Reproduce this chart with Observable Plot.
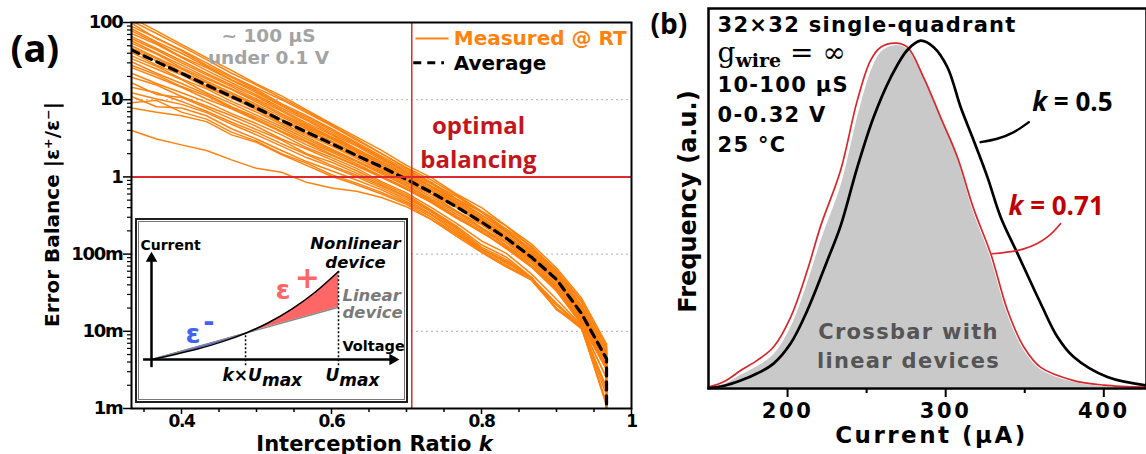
<!DOCTYPE html>
<html><head><meta charset="utf-8">
<script src="https://cdn.jsdelivr.net/npm/d3@7"></script>
<script src="https://cdn.jsdelivr.net/npm/@observablehq/plot@0.6"></script>
<style>
html,body{margin:0;padding:0;background:#fff;}
#root{position:relative;width:1146px;height:454px;overflow:hidden;}
#panelA{position:absolute;left:0;top:0;}
#panelB{position:absolute;left:640px;top:0;}
#inset{position:absolute;left:135px;top:218px;width:269px;height:181px;border:2px solid #1e1e1e;background:#fff;outline:1px solid #777;outline-offset:-4px;}
</style></head>
<body><div id="root"><div id="panelA"></div><div id="inset"></div><div id="panelB"></div></div>
<script>
// ---------- Panel (a) data ----------
const kRatio = [0.3333, 0.3667, 0.4, 0.4333, 0.4667, 0.5, 0.5333, 0.5667, 0.6, 0.6333, 0.6667, 0.7, 0.7333, 0.7667, 0.8, 0.8333, 0.8667, 0.9, 0.9333, 0.9667, 0.9667];
const average = [44, 31, 22, 15.5, 11, 7.8, 5.4, 3.8, 2.7, 1.9, 1.35, 0.93, 0.63, 0.41, 0.26, 0.16, 0.091, 0.047, 0.017, 0.0044, 0.001];
const curve01 = [115, 78, 52, 35, 24, 16, 11.2, 7.4, 4.9, 3.3, 2.2, 1.41, 0.98, 0.60, 0.40, 0.23, 0.135, 0.066, 0.027, 0.0068, 0.001];
const curve02 = [105, 72, 49, 33, 22, 15.5, 10.5, 7.1, 4.7, 3.1, 2.0, 1.32, 0.91, 0.58, 0.36, 0.23, 0.123, 0.062, 0.025, 0.0063, 0.001];
const curve03 = [98, 62, 44, 30, 20, 14.1, 10, 6.8, 4.6, 3.0, 2.0, 1.29, 0.83, 0.56, 0.35, 0.21, 0.126, 0.059, 0.024, 0.006, 0.001];
const curve04 = [89, 63, 43, 28, 19.5, 13.5, 8.9, 6.2, 4.2, 2.8, 1.86, 1.23, 0.85, 0.52, 0.35, 0.20, 0.117, 0.058, 0.022, 0.0055, 0.001];
const curve05 = [83, 56, 40, 27, 18.2, 12.9, 8.5, 5.9, 4.0, 2.7, 1.78, 1.17, 0.81, 0.51, 0.32, 0.20, 0.11, 0.055, 0.021, 0.0052, 0.001];
const curve06 = [78, 54, 36, 26, 17.8, 12.3, 8.3, 5.6, 3.8, 2.6, 1.74, 1.15, 0.76, 0.51, 0.32, 0.20, 0.107, 0.054, 0.020, 0.0051, 0.001];
const curve07 = [72, 52, 35, 24, 16.6, 11.5, 7.8, 5.4, 3.6, 2.5, 1.66, 1.12, 0.74, 0.48, 0.32, 0.19, 0.107, 0.052, 0.020, 0.0050, 0.001];
const curve08 = [66, 46, 32, 22, 15.5, 11, 7.4, 5.0, 3.5, 2.3, 1.58, 1.07, 0.74, 0.46, 0.30, 0.18, 0.10, 0.052, 0.019, 0.0048, 0.001];
const curve09 = [62, 44, 30, 21, 14.8, 10.2, 7.1, 4.8, 3.3, 2.3, 1.55, 1.05, 0.69, 0.46, 0.29, 0.17, 0.102, 0.050, 0.019, 0.0047, 0.001];
const curve10 = [58, 40, 28, 19.5, 13.8, 9.8, 6.6, 4.6, 3.2, 2.2, 1.48, 1.0, 0.69, 0.43, 0.28, 0.17, 0.095, 0.049, 0.018, 0.0045, 0.001];
const curve11 = [54, 39, 26, 18.6, 13.5, 9.3, 6.3, 4.4, 3.1, 2.1, 1.45, 0.98, 0.65, 0.44, 0.27, 0.17, 0.091, 0.048, 0.017, 0.0044, 0.001];
const curve12 = [50, 35, 25, 17.4, 12.3, 8.7, 6.0, 4.2, 2.9, 2.0, 1.38, 0.93, 0.65, 0.41, 0.26, 0.16, 0.089, 0.045, 0.017, 0.0042, 0.001];
const curve13 = [47, 34, 23, 16.6, 11.7, 8.3, 5.6, 4.0, 2.8, 1.9, 1.32, 0.89, 0.60, 0.40, 0.25, 0.155, 0.085, 0.044, 0.0155, 0.004, 0.001];
const curve14 = [44, 32, 22, 15.1, 11, 7.8, 5.5, 3.7, 2.6, 1.82, 1.26, 0.85, 0.59, 0.36, 0.24, 0.145, 0.083, 0.041, 0.015, 0.0038, 0.001];
const curve15 = [41, 28, 21, 14.5, 10.5, 7.4, 5.0, 3.5, 2.5, 1.74, 1.2, 0.83, 0.55, 0.36, 0.22, 0.14, 0.078, 0.039, 0.0145, 0.0036, 0.001];
const curve16 = [37, 27, 18.6, 13.8, 9.5, 6.9, 4.8, 3.3, 2.3, 1.62, 1.15, 0.79, 0.52, 0.35, 0.22, 0.13, 0.076, 0.037, 0.0138, 0.0035, 0.001];
const curve17 = [34, 25, 18.2, 12.3, 8.9, 6.3, 4.5, 3.1, 2.2, 1.58, 1.1, 0.76, 0.50, 0.33, 0.21, 0.129, 0.071, 0.036, 0.0135, 0.0034, 0.001];
const curve18 = [31, 22, 16.2, 11.7, 8.1, 5.9, 4.2, 2.9, 2.1, 1.48, 1.02, 0.72, 0.48, 0.31, 0.20, 0.12, 0.069, 0.035, 0.0129, 0.0032, 0.001];
const curve19 = [28, 21, 14.8, 11.2, 7.8, 5.6, 3.9, 2.8, 1.95, 1.41, 1.02, 0.69, 0.48, 0.30, 0.19, 0.123, 0.068, 0.034, 0.0126, 0.0033, 0.001];
const curve20 = [26, 19.5, 14.5, 10.2, 7.6, 5.4, 3.8, 2.6, 1.9, 1.38, 0.98, 0.69, 0.46, 0.29, 0.195, 0.117, 0.068, 0.033, 0.0123, 0.0032, 0.001];
const curve21 = [22, 16.2, 12.3, 9.3, 6.6, 4.9, 3.5, 2.4, 1.78, 1.29, 0.87, 0.62, 0.40, 0.25, 0.148, 0.102, 0.055, 0.026, 0.012, 0.0033, 0.001];
const curve22 = [19.5, 15.5, 11, 8.3, 6.2, 4.5, 3.1, 2.3, 1.66, 1.2, 0.83, 0.59, 0.37, 0.23, 0.132, 0.091, 0.050, 0.0195, 0.0117, 0.0025, 0.001];
const curve23 = [16.6, 11.7, 10.7, 7.8, 5.6, 4.1, 3.0, 2.0, 1.55, 1.12, 0.79, 0.56, 0.36, 0.22, 0.123, 0.085, 0.049, 0.023, 0.0115, 0.0017, 0.001];
const curve24 = [14.5, 12.3, 9.5, 7.1, 5.1, 3.8, 2.7, 1.95, 1.41, 1.05, 0.76, 0.54, 0.35, 0.21, 0.117, 0.081, 0.048, 0.022, 0.0112, 0.0012, 0.001];
const curve25 = [12.3, 10.2, 8.7, 6.8, 4.8, 3.5, 2.5, 1.78, 1.35, 1.0, 0.72, 0.51, 0.33, 0.20, 0.115, 0.078, 0.048, 0.020, 0.0112, 0.0011, 0.001];
const curve26 = [11, 8.1, 7.8, 6.2, 4.2, 3.1, 2.2, 1.58, 1.2, 0.91, 0.68, 0.48, 0.32, 0.19, 0.11, 0.072, 0.046, 0.0195, 0.0107, 0.0015, 0.001];
const curve27 = [9.1, 9.8, 6.9, 5.6, 3.8, 2.9, 2.0, 1.51, 1.07, 0.83, 0.63, 0.46, 0.30, 0.18, 0.107, 0.069, 0.050, 0.019, 0.0117, 0.0011, 0.001];
const curve28 = [7.8, 6.9, 6.2, 5.2, 3.5, 2.8, 1.95, 1.41, 1.02, 0.79, 0.60, 0.44, 0.28, 0.17, 0.105, 0.068, 0.046, 0.0195, 0.0115, 0.0019, 0.001];
const curve29 = [4.0, 3.1, 2.6, 2.2, 1.66, 1.29, 1.15, 0.85, 0.72, 0.65, 0.54, 0.41, 0.28, 0.18, 0.117, 0.076, 0.050, 0.0195, 0.0117, 0.0025, 0.001];
const optimalK = [0.707];
const balanceLine = [1];
const gridY = [10, 0.1, 0.01];
const yMajor = [0.001, 0.01, 0.1, 1, 10, 100];
const yMajorLabels = ["1m", "10m", "100m", "1", "10", "100"];
const yMinor = [0.002,0.003,0.004,0.005,0.006,0.007,0.008,0.009,0.02,0.03,0.04,0.05,0.06,0.07,0.08,0.09,0.2,0.3,0.4,0.5,0.6,0.7,0.8,0.9,2,3,4,5,6,7,8,9,20,30,40,50,60,70,80,90];
const xMajor = [0.4, 0.6, 0.8, 1.0];
const xMajorLabels = ["0.4", "0.6", "0.8", "1"];
const xMinor = [0.35, 0.45, 0.5, 0.55, 0.65, 0.7, 0.75, 0.85, 0.9, 0.95];

// ---------- Inset data ----------
const insetV = [0, 0.125, 0.25, 0.375, 0.503, 0.625, 0.75, 0.875, 1];
const insetLinear = [0, 0.074, 0.149, 0.223, 0.299, 0.371, 0.446, 0.52, 0.594];
const insetNonlinear = [0, 0.058, 0.123, 0.2, 0.299, 0.418, 0.572, 0.764, 1];

// ---------- Panel (b) data ----------
const currentK071 = [150, 160, 170.3, 181, 191.1, 201.9, 212.5, 220.9, 233.5, 244.1, 252.5, 258.9, 268.4, 275.8, 286.1, 296.8, 307.4, 317.7, 328.5, 339.2, 349.4, 360.1, 381, 400, 427];
const freqK071 = [0.004, 0.02, 0.052, 0.082, 0.12, 0.206, 0.342, 0.47, 0.631, 0.834, 0.95, 0.988, 1.0, 0.988, 0.90, 0.785, 0.67, 0.52, 0.39, 0.225, 0.12, 0.061, 0.023, 0.01, 0.004];
const freqLinear = [0.002, 0.014, 0.04, 0.066, 0.10, 0.18, 0.31, 0.43, 0.59, 0.79, 0.92, 0.975, 0.995, 0.985, 0.905, 0.79, 0.675, 0.515, 0.385, 0.22, 0.115, 0.057, 0.02, 0.008, 0.003];
const currentK05 = [150, 160, 170.3, 181, 191.1, 201.9, 212.5, 225.1, 233.5, 244.1, 254.4, 265.2, 275.8, 284.2, 292.4, 301.1, 309.5, 317.7, 326.4, 334.8, 345.4, 360.1, 370.7, 381, 402.3, 427];
const freqK05 = [0.001, 0.008, 0.023, 0.044, 0.072, 0.13, 0.226, 0.37, 0.47, 0.64, 0.785, 0.90, 0.98, 1.007, 0.988, 0.93, 0.814, 0.718, 0.612, 0.496, 0.391, 0.246, 0.149, 0.091, 0.033, 0.009];
const xTicksB = [200, 300, 400];
const xMinorB = [250, 350];

// ---------- styles ----------
const ORANGE = "#ff820f";
const RED = "#dc2a30";
const DARKRED = "#c3161c";
const BLUE = "#4162f2";
const PINK = "#ff6767";
const SANS = "'DejaVu Sans', sans-serif";

function richText(svg, content, parts) {
  d3.select(svg).selectAll("text").filter(function () { return this.textContent === content; }).each(function () {
    const t = d3.select(this); t.text(null);
    for (const [s, attrs] of parts) {
      const sp = t.append("tspan").text(s);
      for (const a in attrs) sp.attr(a, attrs[a]);
    }
  });
}
function spacing(svg, contents, px) {
  d3.select(svg).selectAll("text").filter(function () { return contents.includes(this.textContent); }).attr("letter-spacing", px + "px");
}

// ---------- Panel (a) ----------
const measured = [curve01, curve02, curve03, curve04, curve05, curve06, curve07, curve08, curve09, curve10,
  curve11, curve12, curve13, curve14, curve15, curve16, curve17, curve18, curve19, curve20,
  curve21, curve22, curve23, curve24, curve25, curve26, curve27, curve28, curve29];
const measuredRows = measured.flatMap((c, id) => c.map((e, j) => ({k: kRatio[j], e, id})));
const averageRows = average.map((e, j) => ({k: kRatio[j], e}));

const plotA = Plot.plot({
  width: 640, height: 454,
  marginLeft: 131, marginRight: 9, marginTop: 22, marginBottom: 46,
  x: {type: "linear", domain: [1 / 3, 1]},
  y: {type: "log", domain: [0.001, 100]},
  style: {fontFamily: SANS, background: "transparent", overflow: "visible"},
  marks: [
    Plot.ruleY(gridY, {stroke: "#b0b0b0", strokeDasharray: "2,3", strokeWidth: 1}),
    Plot.line(measuredRows, {x: "k", y: "e", z: "id", stroke: ORANGE, strokeWidth: 1.5, clip: true}),
    Plot.line(averageRows, {x: "k", y: "e", stroke: "black", strokeWidth: 3.2, strokeDasharray: "8,6", clip: true}),
    Plot.ruleY(balanceLine, {stroke: RED, strokeWidth: 2}),
    Plot.ruleX(optimalK, {stroke: RED, strokeWidth: 1.5}),
    Plot.frame({stroke: "black", strokeWidth: 2}),
    Plot.axisX({ticks: xMajor, tickFormat: d => xMajorLabels[xMajor.indexOf(d)], tickSize: 6, tickPadding: 0, fontSize: 17, fontWeight: "bold", label: null, strokeWidth: 1.5}),
    Plot.axisX({ticks: xMinor, tickFormat: () => "", tickSize: 4, label: null, strokeWidth: 1.5}),
    Plot.axisY({ticks: yMajor, tickFormat: d => yMajorLabels[yMajor.indexOf(d)], tickSize: 8, tickPadding: 1, fontSize: 18, fontWeight: "bold", label: null, strokeWidth: 1.5}),
    Plot.axisY({ticks: yMinor, tickFormat: () => "", tickSize: 4, label: null, strokeWidth: 1.2}),
    // legend
    Plot.link([0], {x1: 0.712, x2: 0.756, y1: 62, y2: 62, stroke: ORANGE, strokeWidth: 2}),
    Plot.text(["Measured @ RT"], {x: 0.763, y: 51, textAnchor: "start", lineAnchor: "bottom", fill: ORANGE, fontSize: 20, fontWeight: "bold"}),
    Plot.link([0], {x1: 0.709, x2: 0.750, y1: 30, y2: 30, stroke: "black", strokeWidth: 3, strokeDasharray: "8,6"}),
    Plot.text(["Average"], {x: 0.763, y: 24.5, textAnchor: "start", lineAnchor: "bottom", fill: "black", fontSize: 20, fontWeight: "bold"}),
    // annotations
    Plot.text(["~ 100 µS"], {x: 0.516, y: 56.5, lineAnchor: "bottom", fill: "#a3a3a3", fontSize: 18.5, fontWeight: "bold"}),
    Plot.text(["under 0.1 V"], {x: 0.516, y: 29.3, lineAnchor: "bottom", fill: "#a3a3a3", fontSize: 18.5, fontWeight: "bold"}),
    Plot.text(["optimal"], {x: 0.796, y: 3.6, lineAnchor: "bottom", fill: DARKRED, fontSize: 24, fontWeight: 700, fontFamily: "'Open Sans'"}),
    Plot.text(["balancing"], {x: 0.796, y: 1.31, lineAnchor: "bottom", fill: DARKRED, fontSize: 24, fontWeight: 700, fontFamily: "'Open Sans'"}),
    // labels
    Plot.text(["(a)"], {frameAnchor: "top-left", dx: -121, dy: 39, textAnchor: "start", lineAnchor: "bottom", fontSize: 38, fontWeight: 700, fontFamily: "'Open Sans'"}),
    Plot.text(["Error Balance |ε⁺/ε⁻|"], {frameAnchor: "left", dx: -79, dy: -1, rotate: -90, textAnchor: "middle", lineAnchor: "middle", fontSize: 20, fontWeight: "bold"}),
    Plot.text(["Interception Ratio k"], {frameAnchor: "bottom", dx: -7, dy: 42, lineAnchor: "bottom", textAnchor: "middle", fontSize: 21, fontWeight: "bold"})
  ]
});
richText(plotA, "Interception Ratio k", [["Interception Ratio ", {}], ["k", {"font-style": "italic"}]]);
d3.select(plotA).selectAll('g[aria-label="x-axis tick label"] text, g[aria-label="y-axis tick label"] text').attr("letter-spacing", "-1.3px");
document.getElementById("panelA").append(plotA);

// ---------- Inset ----------
const insetRows = insetV.map((v, i) => ({v, lin: insetLinear[i], nl: insetNonlinear[i]}));
const kIdx = 4;
const plotInset = Plot.plot({
  width: 269, height: 181,
  marginLeft: 14, marginRight: 68, marginTop: 51, marginBottom: 42,
  x: {domain: [0, 1], axis: null},
  y: {domain: [0, 1], axis: null},
  style: {fontFamily: SANS, background: "transparent", overflow: "visible"},
  marks: [
    Plot.areaY(insetRows.slice(0, kIdx + 1), {x: "v", y1: "nl", y2: "lin", fill: BLUE, curve: "monotone-x"}),
    Plot.areaY(insetRows.slice(kIdx), {x: "v", y1: "lin", y2: "nl", fill: PINK, curve: "monotone-x"}),
    Plot.line(insetRows, {x: "v", y: "lin", stroke: "#8a8a8a", strokeWidth: 1.5}),
    Plot.line(insetRows, {x: "v", y: "nl", stroke: "black", strokeWidth: 1.5, curve: "monotone-x"}),
    Plot.ruleX([insetV[kIdx]], {y1: -0.07, y2: insetNonlinear[kIdx], stroke: "black", strokeDasharray: "2,2", strokeWidth: 1.5}),
    Plot.ruleX([insetV[insetV.length - 1]], {y1: -0.07, y2: insetNonlinear[insetNonlinear.length - 1], stroke: "black", strokeDasharray: "2,2", strokeWidth: 1.5}),
    Plot.link([0], {x1: 0, x2: 0, y1: -0.087, y2: 1.15, stroke: "black", strokeWidth: 2.5}),
    Plot.link([0], {x1: -0.045, x2: 1.29, y1: 0, y2: 0, stroke: "black", strokeWidth: 2.5}),
    Plot.dot([0], {x: 0, y: 1.15, symbol: "triangle2", r: 5.5, fill: "black", stroke: null}),
    Plot.dot([0], {x: 1.29, y: 0, symbol: "triangle2", r: 5.5, fill: "black", stroke: null, rotate: 90}),
    Plot.text(["Current"], {x: -0.059, y: 1.25, textAnchor: "start", lineAnchor: "bottom", fontSize: 14, fontWeight: "bold"}),
    Plot.text(["Voltage"], {x: 1.021, y: 0.091, textAnchor: "start", lineAnchor: "bottom", fontSize: 14.5, fontWeight: "bold"}),
    Plot.text(["Nonlinear"], {x: 1.091, y: 1.26, textAnchor: "middle", lineAnchor: "bottom", fontSize: 16.5, fontWeight: "bold", fontStyle: "italic"}),
    Plot.text(["device"], {x: 1.091, y: 1.045, textAnchor: "middle", lineAnchor: "bottom", fontSize: 16.5, fontWeight: "bold", fontStyle: "italic"}),
    Plot.text(["Linear"], {x: 1.021, y: 0.67, textAnchor: "start", lineAnchor: "bottom", fontSize: 16.5, fontWeight: "bold", fontStyle: "italic", fill: "#7a7a7a"}),
    Plot.text(["device"], {x: 1.021, y: 0.466, textAnchor: "start", lineAnchor: "bottom", fontSize: 16.5, fontWeight: "bold", fontStyle: "italic", fill: "#7a7a7a"}),
    Plot.text(["ε"], {x: 0.182, y: 0.182, textAnchor: "start", lineAnchor: "bottom", fontSize: 27, fontWeight: "bold", fill: BLUE}),
    Plot.text(["-"], {x: 0.307, y: 0.424, textAnchor: "middle", lineAnchor: "middle", fontSize: 27, fontWeight: "bold", fill: BLUE}),
    Plot.text(["ε"], {x: 0.663, y: 0.693, textAnchor: "start", lineAnchor: "bottom", fontSize: 27, fontWeight: "bold", fill: PINK}),
    Plot.text(["+"], {x: 0.833, y: 0.917, textAnchor: "middle", lineAnchor: "middle", fontSize: 30, fontWeight: "bold", fill: PINK}),
    Plot.text(["k×Umax"], {x: 0.38, y: -0.239, textAnchor: "start", lineAnchor: "bottom", fontSize: 17, fontWeight: "bold", fontStyle: "italic"}),
    Plot.text(["Umax"], {x: 0.93, y: -0.239, textAnchor: "start", lineAnchor: "bottom", fontSize: 17, fontWeight: "bold", fontStyle: "italic"})
  ]
});
richText(plotInset, "k×Umax", [["k×U", {}], ["max", {dy: 5}]]);
richText(plotInset, "Umax", [["U", {}], ["max", {dy: 5}]]);
document.getElementById("inset").append(plotInset);

// ---------- Panel (b) ----------
const rowsK071 = currentK071.map((c, i) => ({c, f: freqK071[i]}));
const rowsLinear = currentK071.map((c, i) => ({c, f: freqLinear[i]}));
const rowsK05 = currentK05.map((c, i) => ({c, f: freqK05[i]}));

const plotB = Plot.plot({
  width: 506, height: 454,
  marginLeft: 68, marginRight: 0, marginTop: 8, marginBottom: 66,
  x: {domain: [150, 427]},
  y: {domain: [0, 1.1], axis: null},
  style: {fontFamily: SANS, background: "transparent", overflow: "visible"},
  marks: [
    Plot.areaY(rowsLinear, {x: "c", y: "f", fill: "#c9c9c9", stroke: "white", strokeWidth: 1.5, curve: "catmull-rom"}),
    Plot.line(rowsK071, {x: "c", y: "f", stroke: "#d9262c", strokeWidth: 1.7, curve: "catmull-rom"}),
    Plot.line(rowsK05, {x: "c", y: "f", stroke: "black", strokeWidth: 2.7, curve: "catmull-rom"}),
    Plot.line([[352.6, 0.771], [343.1, 0.742], [332.6, 0.723], [322.1, 0.713]], {stroke: "black", strokeWidth: 2.4, curve: "natural"}),
    Plot.line([[372.6, 0.477], [364.2, 0.438], [349.4, 0.404], [329.4, 0.390]], {stroke: "#d9262c", strokeWidth: 1.7, curve: "natural"}),
    Plot.frame({stroke: "black", strokeWidth: 2.5}),
    Plot.axisX({ticks: xTicksB, tickSize: 9, tickPadding: 6, fontSize: 21, fontWeight: "bold", label: null, strokeWidth: 2}),
    Plot.axisX({ticks: xMinorB, tickFormat: () => "", tickSize: 5, label: null, strokeWidth: 2}),
    Plot.text(["32×32 single-quadrant"], {x: 155.7, y: 1.031, textAnchor: "start", lineAnchor: "bottom", fontSize: 21, fontWeight: "bold"}),
    Plot.text(["gwire = ∞"], {x: 155.7, y: 0.944, textAnchor: "start", lineAnchor: "bottom", fontSize: 28}),
    Plot.text(["10-100 µS"], {x: 155.7, y: 0.858, textAnchor: "start", lineAnchor: "bottom", fontSize: 21, fontWeight: "bold"}),
    Plot.text(["0-0.32 V"], {x: 155.7, y: 0.771, textAnchor: "start", lineAnchor: "bottom", fontSize: 21, fontWeight: "bold"}),
    Plot.text(["25 °C"], {x: 155.7, y: 0.684, textAnchor: "start", lineAnchor: "bottom", fontSize: 21, fontWeight: "bold"}),
    Plot.text(["k = 0.5"], {x: 354.8, y: 0.803, textAnchor: "start", lineAnchor: "bottom", fontSize: 26, fontWeight: 700, fontFamily: "'Open Sans'"}),
    Plot.text(["k = 0.71"], {x: 339.8, y: 0.501, textAnchor: "start", lineAnchor: "bottom", fontSize: 26, fontWeight: 700, fontFamily: "'Open Sans'", fill: "#c00000"}),
    Plot.text(["Crossbar with"], {x: 276.5, y: 0.1447, textAnchor: "middle", lineAnchor: "bottom", fontSize: 21, fontWeight: "bold", fill: "#555555"}),
    Plot.text(["linear devices"], {x: 276.5, y: 0.0579, textAnchor: "middle", lineAnchor: "bottom", fontSize: 21, fontWeight: "bold", fill: "#555555"}),
    Plot.text(["(b)"], {frameAnchor: "top-left", dx: -58, dy: 25.5, textAnchor: "start", lineAnchor: "bottom", fontSize: 28, fontWeight: 700, fontFamily: "'Open Sans'"}),
    Plot.text(["Frequency (a.u.)"], {frameAnchor: "left", dx: -20, dy: 3, rotate: -90, textAnchor: "middle", lineAnchor: "middle", fontSize: 24, fontWeight: "bold"}),
    Plot.text(["Current (µA)"], {frameAnchor: "bottom", dx: 4, dy: 54, textAnchor: "middle", lineAnchor: "bottom", fontSize: 23, fontWeight: "bold"})
  ]
});
richText(plotB, "gwire = ∞", [
  ["g", {"font-family": "'DejaVu Serif', serif", "font-size": 28, "font-weight": "normal"}],
  ["wire", {"font-family": "'DejaVu Serif', serif", "font-size": 19, "font-weight": "bold", dy: 5}],
  [" = ∞", {"font-family": "'DejaVu Serif', serif", "font-size": 28, "font-weight": "normal", dy: -5}]
]);
spacing(plotB, ["32×32 single-quadrant", "10-100 µS", "0-0.32 V", "25 °C", "Crossbar with", "linear devices"], 1.3);
spacing(plotB, ["Current (µA)"], 2.5);
d3.select(plotB).selectAll('g[aria-label="x-axis tick label"] text').attr("letter-spacing", "2.6px");
richText(plotB, "k = 0.5", [["k", {"font-style": "italic"}], [" = 0.5", {}]]);
richText(plotB, "k = 0.71", [["k", {"font-style": "italic"}], [" = 0.71", {}]]);
document.getElementById("panelB").append(plotB);
</script>
</body></html>
